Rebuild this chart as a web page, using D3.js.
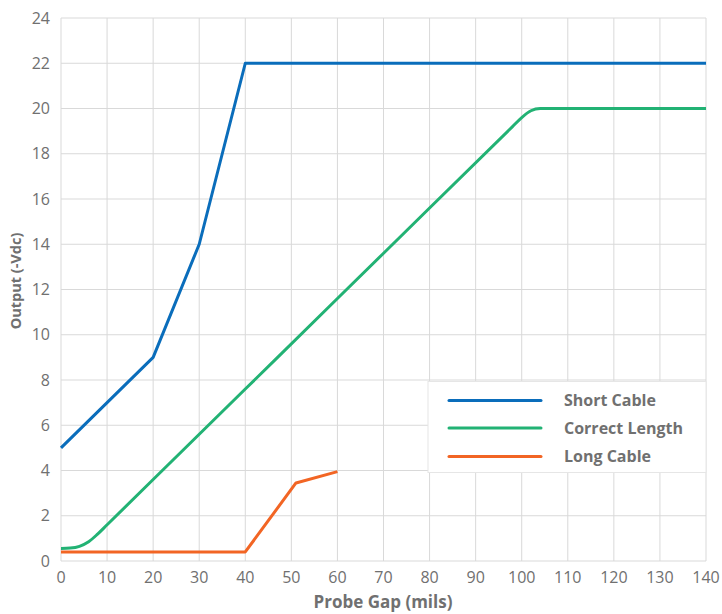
<!DOCTYPE html>
<html><head><meta charset="utf-8">
<script src="https://cdn.jsdelivr.net/npm/d3@7"></script>
<style>body{margin:0;background:#fff}svg{display:block}</style>
</head><body>
<script>
const seriesNames = ["Short Cable", "Correct Length", "Long Cable"];
const seriesColors = ["#0a6dbb", "#22b274", "#f26524"];
const shortCable = [[0,5],[20,9],[30,14],[40,22],[140,22]];
const correctLength = [[0,0.55],[2,0.57],[4,0.65],[6,0.85],[8,1.2],[10,1.6],[20,3.6],[40,7.6],[60,11.6],[80,15.6],[98,19.2],[100,19.6],[102,19.9],[104,20],[106,20],[140,20]];
const longCable = [[0,0.4],[40,0.4],[51,3.45],[60,3.95]];
const xTicks = d3.range(0,141,10);
const yTicks = d3.range(0,25,2);

const W=722,H=614;
const svg=d3.select("body").append("svg").attr("width",W).attr("height",H);
const x=d3.scaleLinear().domain([0,140]).range([61,706]);
const y=d3.scaleLinear().domain([0,24]).range([561,18]);
const grid="#d9d9d9", txt="#707070", font="'Open Sans', sans-serif";

svg.append("g").selectAll("line").data(xTicks).join("line")
 .attr("x1",d=>x(d)).attr("x2",d=>x(d)).attr("y1",y(0)).attr("y2",y(24))
 .attr("stroke",grid).attr("stroke-width",1);
svg.append("g").selectAll("line").data(yTicks).join("line")
 .attr("y1",d=>y(d)).attr("y2",d=>y(d)).attr("x1",x(0)).attr("x2",x(140))
 .attr("stroke",grid).attr("stroke-width",1);

svg.append("g").selectAll("text").data(xTicks).join("text")
 .attr("x",d=>x(d)).attr("y",583).attr("text-anchor","middle")
 .attr("font-family",font).attr("font-size",16).attr("fill",txt).text(d=>d);
svg.append("g").selectAll("text").data(yTicks).join("text")
 .attr("x",50).attr("y",d=>y(d)+5.5).attr("text-anchor","end")
 .attr("font-family",font).attr("font-size",16).attr("fill",txt).text(d=>d);

svg.append("text").attr("x",383).attr("y",608).attr("text-anchor","middle")
 .attr("font-family",font).attr("font-size",17).attr("font-weight","bold").attr("fill",txt)
 .text("Probe Gap (mils)");
svg.append("text").attr("transform","translate(21,281) rotate(-90)").attr("text-anchor","middle")
 .attr("font-family",font).attr("font-size",14.5).attr("font-weight","bold").attr("fill",txt)
 .text("Output (-Vdc)");

const line=d3.line().x(d=>x(d[0])).y(d=>y(d[1]));
const lineSmooth=d3.line().x(d=>x(d[0])).y(d=>y(d[1])).curve(d3.curveMonotoneX);
const data=[shortCable,correctLength,longCable];
data.forEach((s,i)=>{
  svg.append("path").datum(s).attr("d",i===1?lineSmooth:line)
   .attr("fill","none").attr("stroke",seriesColors[i]).attr("stroke-width",3)
   .attr("stroke-linejoin","round").attr("stroke-linecap","butt");
});

// legend
svg.append("rect").attr("x",428).attr("y",381.5).attr("width",278).attr("height",91)
 .attr("fill","#fff").attr("stroke","#e6e6e6").attr("stroke-width",1);
const ly=[400.5,428,456.5];
seriesNames.forEach((n,i)=>{
  svg.append("line").attr("x1",449).attr("x2",541).attr("y1",ly[i]).attr("y2",ly[i])
   .attr("stroke",seriesColors[i]).attr("stroke-width",3).attr("stroke-linecap","round");
  svg.append("text").attr("x",564).attr("y",ly[i]+5.5)
   .attr("font-family",font).attr("font-size",16).attr("font-weight","bold").attr("fill",txt).text(n);
});
</script>
</body></html>
